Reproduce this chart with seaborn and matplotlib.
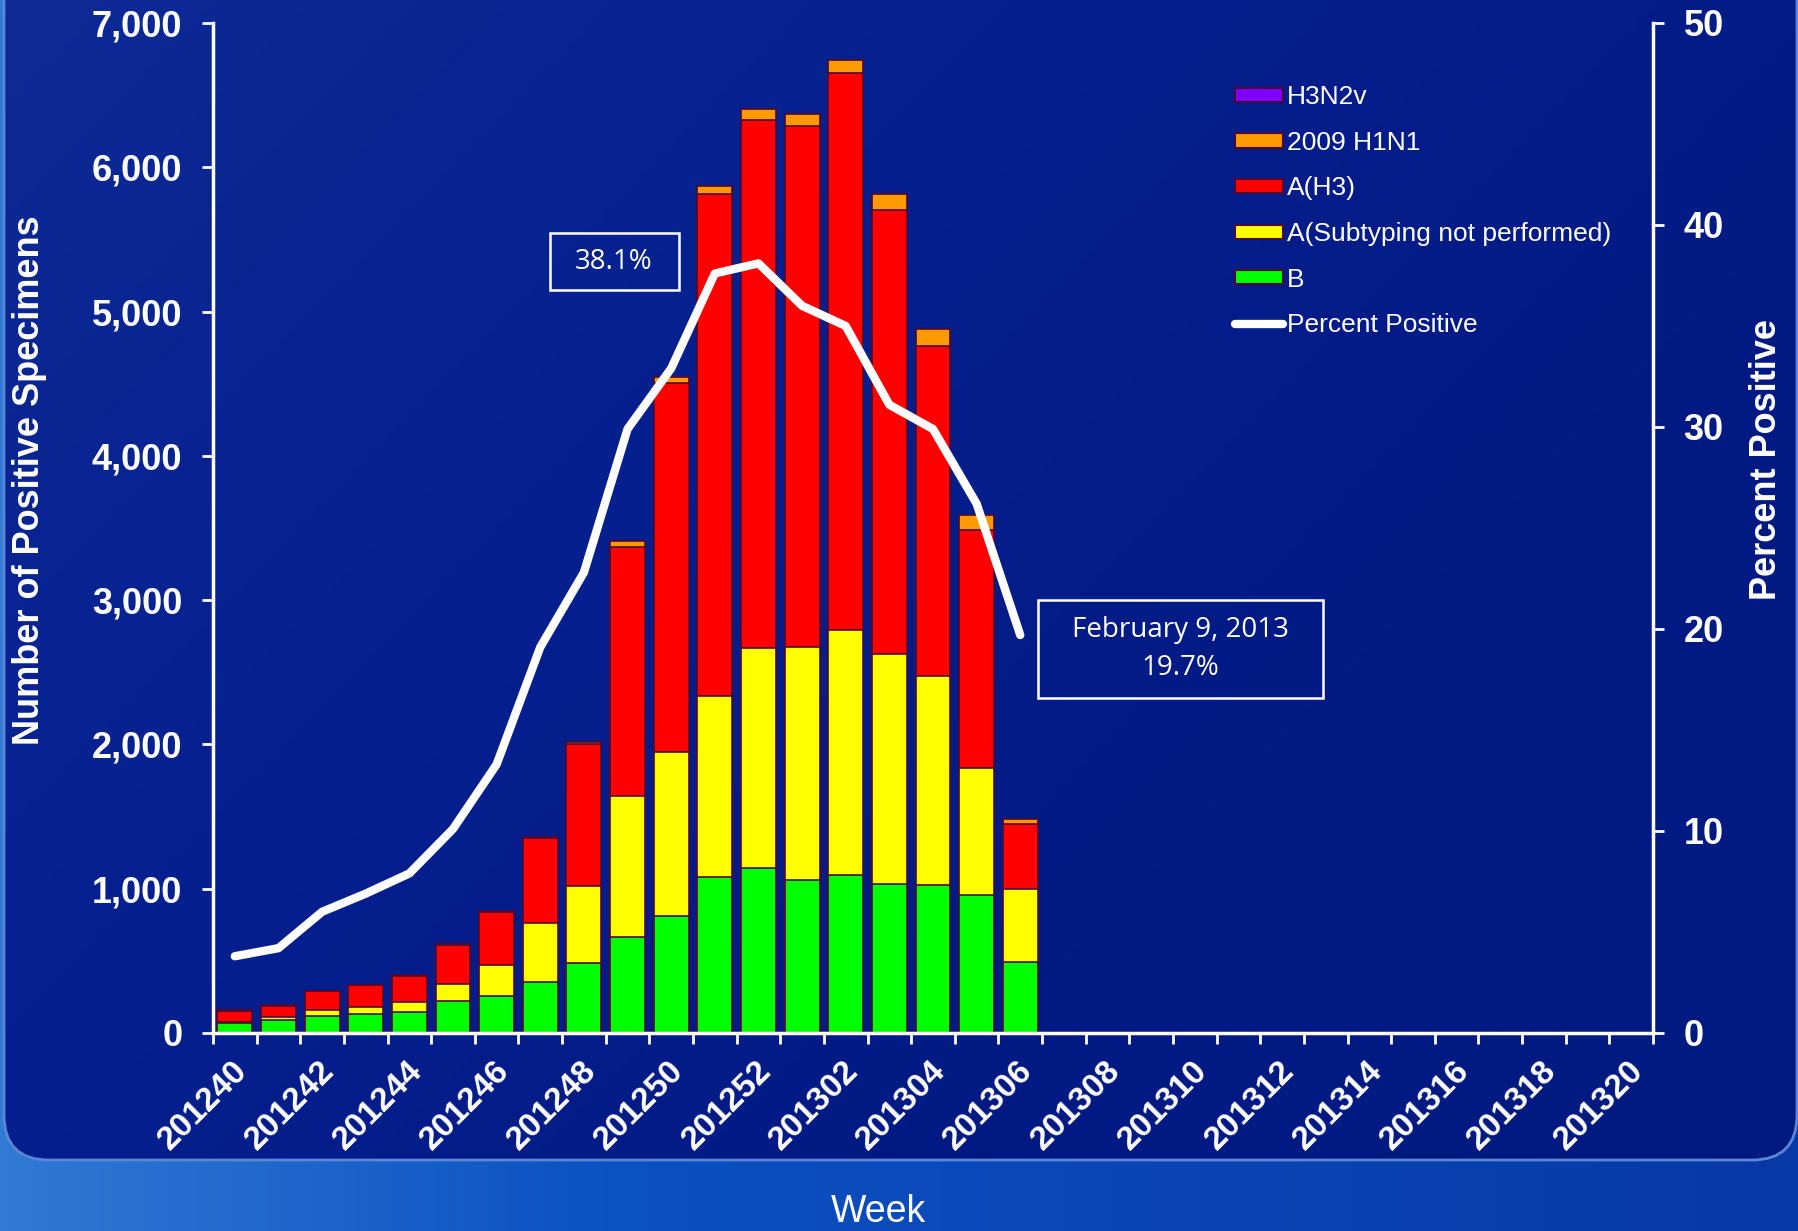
import numpy as np
import pandas as pd
import matplotlib
matplotlib.use("Agg")
import matplotlib.pyplot as plt
import matplotlib.transforms as mtransforms
import seaborn as sns
from matplotlib.patches import FancyBboxPatch, Patch, Rectangle
from matplotlib.lines import Line2D
from matplotlib.colors import LinearSegmentedColormap

# ---------------------------------------------------------
# data
# ---------------------------------------------------------
weeks = ["201240", "201241", "201242", "201243", "201244", "201245", "201246",
         "201247", "201248", "201249", "201250", "201251", "201252",
         "201301", "201302", "201303", "201304", "201305", "201306", "201307",
         "201308", "201309", "201310", "201311", "201312", "201313", "201314",
         "201315", "201316", "201317", "201318", "201319", "201320"]

b_flu = [70, 88, 115, 134, 143, 222, 259, 351, 487, 665, 808, 1081, 1141,
         1062, 1095, 1030, 1023, 954, 490]
a_unsub = [8, 22, 47, 46, 72, 115, 210, 411, 531, 977, 1141, 1254, 1529,
           1612, 1699, 1594, 1450, 884, 505]
a_h3 = [75, 79, 129, 150, 182, 275, 372, 591, 982, 1728, 2555, 3479, 3657,
        3611, 3861, 3079, 2288, 1648, 455]
h1n1_2009 = [3, 3, 3, 3, 4, 5, 5, 8, 20, 39, 44, 56, 74, 82, 88, 109, 116, 104, 35]
h3n2v = [0, 0, 0, 0, 0, 0, 0, 0, 0, 0, 0, 0, 0, 0, 0, 0, 0, 0, 0]

pct_positive = [3.8, 4.2, 6.0, 6.9, 7.9, 10.1, 13.3, 19.1, 22.8, 29.9, 32.9,
                37.6, 38.1, 36.0, 35.0, 31.1, 29.9, 26.2, 19.7]

series_names = ["B", "A(Subtyping not performed)", "A(H3)", "2009 H1N1", "H3N2v"]
series_colors = ["#00ff00", "#ffff00", "#ff0000", "#ff9900", "#7f00ff"]

n = len(b_flu)
df = pd.DataFrame({
    "week": weeks[:n],
    "B": b_flu,
    "A(Subtyping not performed)": a_unsub,
    "A(H3)": a_h3,
    "2009 H1N1": h1n1_2009,
    "H3N2v": h3n2v,
})

# cumulated tops, stacked from the bottom (B) upwards
cum = df[series_names].cumsum(axis=1)
cum["week"] = df["week"]

# ---------------------------------------------------------
# figure + background
# ---------------------------------------------------------
W, H = 1799, 1231
fig = plt.figure(figsize=(W / 100, H / 100), dpi=100)

bg = fig.add_axes([0, 0, 1, 1], zorder=-10)
bg.set_xlim(0, 1)
bg.set_ylim(0, 1)
bg.axis("off")

band_cmap = LinearSegmentedColormap.from_list("band", ["#3079d4", "#0b52c2", "#0a44b4", "#0838a6"])
grad = np.linspace(0, 1, 256).reshape(1, -1)
bg.imshow(grad, extent=[0, 1, 0, 1], aspect="auto", cmap=band_cmap, zorder=0)

panel = FancyBboxPatch((4 / W, 1 - 1160 / H), 1 - 6 / W, 1160 / H + 0.05,
                       boxstyle="round,pad=0,rounding_size=0.025",
                       mutation_aspect=W / H,
                       facecolor="none", edgecolor="#5b86d6", lw=2, zorder=2)
bg.add_patch(panel)
panel_cmap = LinearSegmentedColormap.from_list("panel", ["#0d2a95", "#062090", "#021a84", "#011a82"])
gy, gx = np.mgrid[0:1:200j, 0:1:200j]
panel_grad = 0.6 * gx + 0.4 * (1 - gy)
im = bg.imshow(panel_grad, extent=[0, 1, 0, 1], aspect="auto", cmap=panel_cmap,
               origin="lower", zorder=1)
im.set_clip_path(panel)

# ---------------------------------------------------------
# bars
# ---------------------------------------------------------
ax = fig.add_axes([213 / W, 1 - 1033 / H, 1440 / W, 1010 / H])
ax.patch.set_alpha(0)

edge = "#4a0a35"
for name, col in reversed(list(zip(series_names, series_colors))):
    sns.barplot(data=cum, x="week", y=name, order=weeks, color=col,
                edgecolor=edge, linewidth=1.2, width=0.8, saturation=1,
                errorbar=None, ax=ax)

ax.set_ylim(0, 7000)
ax.set_yticks(range(0, 7001, 1000))
ax.set_yticklabels([f"{v:,}" for v in range(0, 7001, 1000)])

ax.set_xticks(np.arange(-0.5, len(weeks), 1))
ax.set_xticklabels([])
ax.set_xticks(np.arange(0, len(weeks), 2), minor=True)
ax.set_xticklabels(weeks[::2], minor=True, rotation=45, ha="right",
                   va="center", rotation_mode="anchor",
                   fontsize=24, fontweight="bold", color="white",
                   family="Liberation Sans")
ax.tick_params(axis="x", which="major", direction="out", length=8, width=2,
               color="white")
ax.tick_params(axis="x", which="minor", length=0, pad=24)
shift = mtransforms.ScaledTranslation(8 / 100, 0, fig.dpi_scale_trans)
for t in ax.get_xticklabels(minor=True):
    t.set_transform(t.get_transform() + shift)
ax.tick_params(axis="y", direction="out", length=8, width=2, color="white",
               labelcolor="white", labelsize=26, pad=14)
for t in ax.get_yticklabels():
    t.set_fontweight("bold")
    t.set_family("Liberation Sans")

ax.set_xlabel("")
ax.set_ylabel("")
for s in ["left", "bottom"]:
    ax.spines[s].set_color("white")
    ax.spines[s].set_linewidth(2.5)
ax.spines["top"].set_visible(False)
ax.spines["right"].set_visible(False)

# ---------------------------------------------------------
# percent positive line
# ---------------------------------------------------------
ax2 = ax.twinx()
ax2.patch.set_alpha(0)
sns.lineplot(x=np.arange(len(pct_positive)), y=pct_positive, color="white",
             linewidth=6, solid_capstyle="round", ax=ax2)
ax2.set_ylim(0, 50)
ax2.set_yticks(range(0, 51, 10))
ax2.tick_params(axis="y", direction="out", length=8, width=2, color="white",
                labelcolor="white", labelsize=26, pad=14)
for t in ax2.get_yticklabels():
    t.set_fontweight("bold")
    t.set_family("Liberation Sans")
ax2.spines["right"].set_color("white")
ax2.spines["right"].set_linewidth(2.5)
for s in ["top", "left", "bottom"]:
    ax2.spines[s].set_visible(False)
ax2.set_ylabel("")
ax.set_xlim(-0.5, len(weeks) - 0.5)

# ---------------------------------------------------------
# labels
# ---------------------------------------------------------
fig.text(30 / W, 1 - 480 / H, "Number of Positive Specimens", rotation=90,
         ha="center", va="center", color="white", fontsize=26,
         fontweight="bold", family="Liberation Sans")
fig.text(1767 / W, 1 - 459 / H, "Percent Positive", rotation=90,
         ha="center", va="center", color="white", fontsize=26,
         fontweight="bold", family="Liberation Sans")
fig.text(878 / W, 9 / H, "Week", ha="center", va="baseline", color="white",
         fontsize=27, family="Liberation Sans")

# ---------------------------------------------------------
# legend
# ---------------------------------------------------------
handles = [Patch(facecolor=c, edgecolor=edge, lw=1.5) for c in series_colors[::-1]]
handles.append(Line2D([0], [0], color="white", lw=6, solid_capstyle="round"))
labels = series_names[::-1] + ["Percent Positive"]
leg = fig.legend(handles, labels, loc="upper left",
                 bbox_to_anchor=(1222 / W, 1 - 72 / H), frameon=False,
                 handlelength=1.8, handleheight=0.45,
                 handletextpad=0.15, labelspacing=0.82, borderpad=0,
                 prop={"family": "Liberation Sans", "size": 19})
for t in leg.get_texts():
    t.set_color("white")

# ---------------------------------------------------------
# annotation boxes
# ---------------------------------------------------------
def note_box(x0, y0, x1, y1):
    fig.add_artist(Rectangle((x0 / W, 1 - y1 / H), (x1 - x0) / W, (y1 - y0) / H,
                             transform=fig.transFigure, facecolor="none",
                             edgecolor="white", lw=1.8))

note_box(550, 233, 679, 290)
fig.text(614 / W, 1 - 262 / H, f"{pct_positive[12]}%", ha="center", va="center",
         color="white", fontsize=20, family="Open Sans")
note_box(1038, 600, 1323, 698)
fig.text(1180 / W, 1 - 630 / H, "February 9, 2013", ha="center", va="center",
         color="white", fontsize=20, family="Open Sans")
fig.text(1180 / W, 1 - 668 / H, f"{pct_positive[-1]}%", ha="center", va="center",
         color="white", fontsize=20, family="Open Sans")

fig.savefig("out.png", dpi=100)
